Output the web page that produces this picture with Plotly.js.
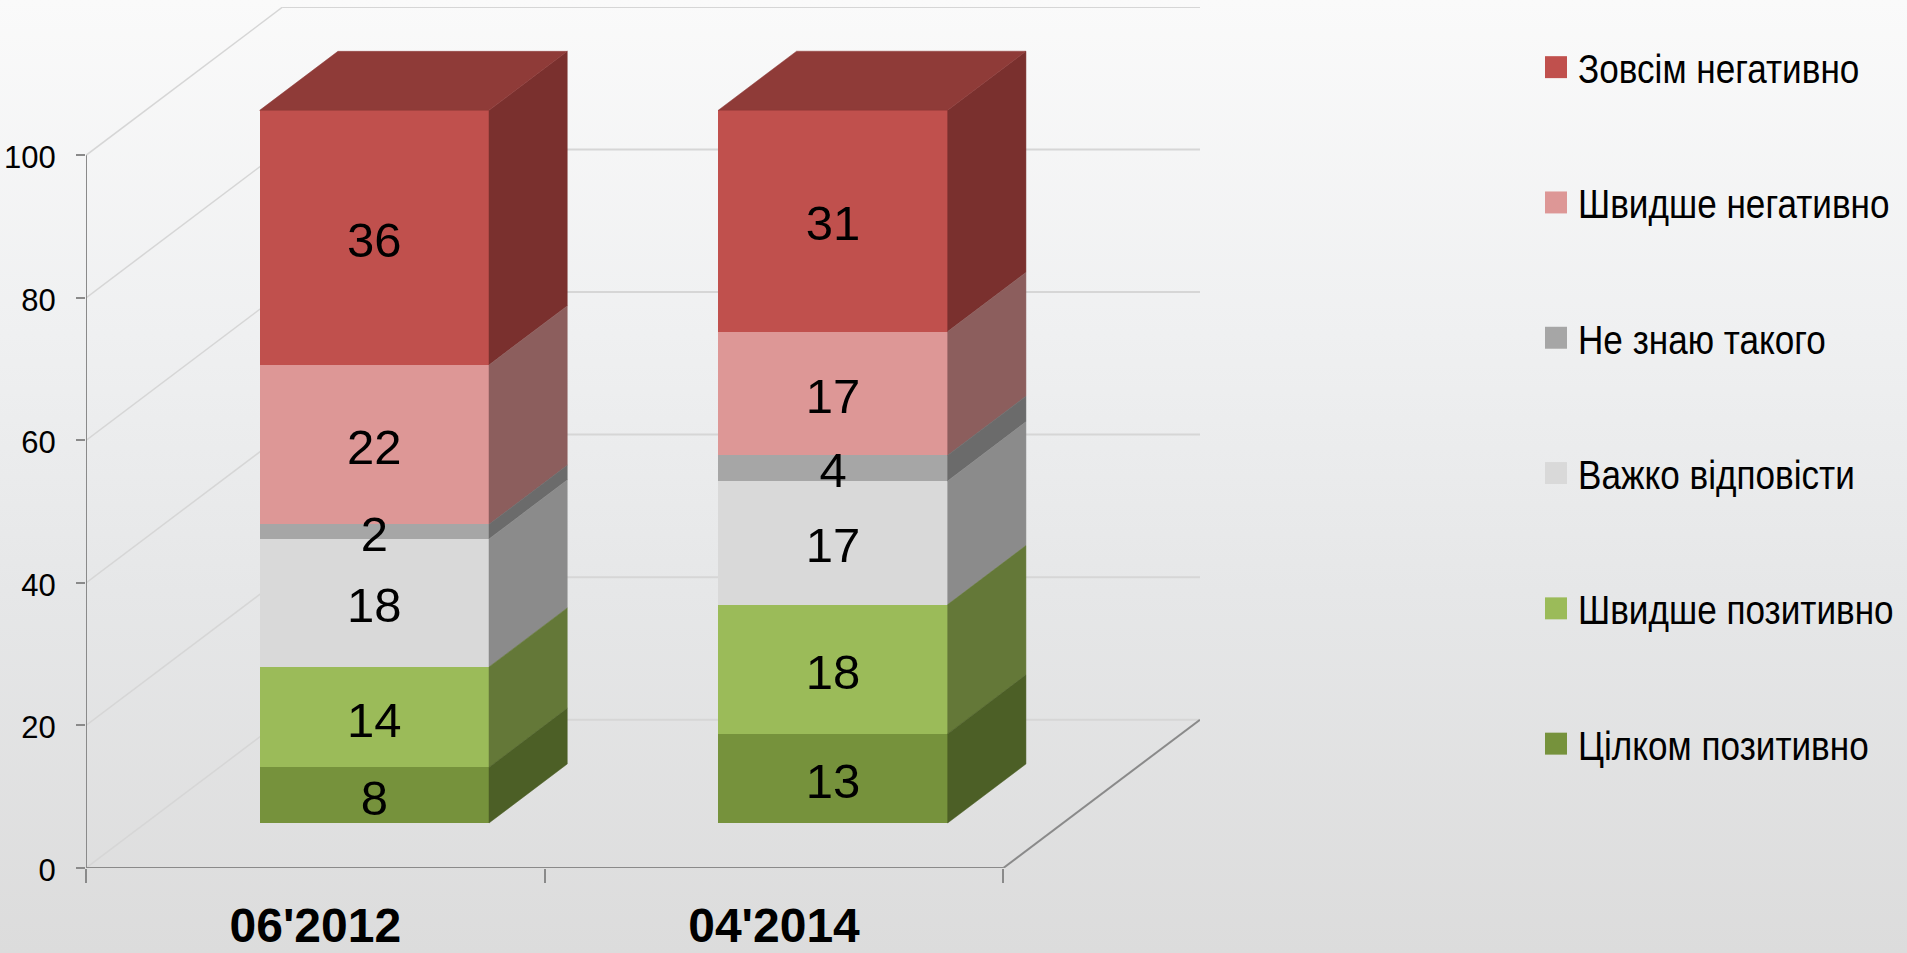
<!DOCTYPE html>
<html>
<head>
<meta charset="utf-8">
<script src="https://cdn.plot.ly/plotly-3.0.1.min.js"></script>
<style>
html,body{margin:0;padding:0;width:1907px;height:953px;overflow:hidden;
background:linear-gradient(to bottom,#fafafa 0%,#eff0f1 35%,#e6e7e8 62%,#dcdcdc 100%);}
#chart{width:1907px;height:953px;}
.legend .legendpoints path{transform:translate(18px,0) scale(1.83);}
.legend text.legendtext{transform-box:fill-box;transform-origin:left center;transform:scaleX(0.857);}
</style>
</head>
<body>
<div id="chart"></div>
<script>
// ---- data (labels show the rounded value) ----
const categories = ["06'2012", "04'2014"];
const seriesNames = ["Зовсім негативно", "Швидше негативно", "Не знаю такого", "Важко відповісти", "Швидше позитивно", "Цілком позитивно"];
const zovsimNegatyvno   = [35.72, 31.05];
const shvydsheNegatyvno = [22.37, 17.36];
const neZnayu           = [2.05, 3.6];
const vazhko            = [17.96, 17.36];
const shvydshePozytyvno = [14.09, 18.14];
const tsilkomPozytyvno  = [7.8, 12.5];
const yTicks = [0, 20, 40, 60, 80, 100];

// ---- styles ----
const frontColors = ["#C0504D", "#DD9796", "#A6A6A6", "#D9D9D9", "#9BBB59", "#76923C"];
const sideColors  = ["#7A302E", "#8C5E5D", "#6B6B6B", "#8B8B8B", "#647838", "#4C5F26"];
const topColor = "#8F3B38";
const axisColor = "#8A8A8A";
const gridColor = "#D6D6D6";

// 3-D look: depth vector of the floor, in axis units
const depthX = 0.4287, depthY = 20.81;
const frontFracX = 0.30, frontFracY = 0.3035, barFrac = 0.398, barWidth = 0.5;
const labelDrop = 1.0;

const allSeries = [zovsimNegatyvno, shvydsheNegatyvno, neZnayu, vazhko, shvydshePozytyvno, tsilkomPozytyvno];
const fx = frontFracX * depthX, fy = frontFracY * depthY;
const bx = barFrac * depthX, by = barFrac * depthY;
const centers = categories.map((_, i) => i + 0.5 + fx);

// cumulative bases: last series sits at the bottom of the stack
const bases = allSeries.map((_, s) => categories.map((_, c) => {
  let sum = 0;
  for (let k = s + 1; k < allSeries.length; k++) sum += allSeries[k][c];
  return sum;
}));

const traces = [];
// front faces
allSeries.forEach((vals, s) => {
  traces.push({
    type: 'bar', name: seriesNames[s], x: centers, y: vals,
    base: bases[s].map(b => b + fy), width: barWidth,
    marker: {color: frontColors[s], line: {width: 0}},
    legendgroup: 'g' + s, hoverinfo: 'y+name'
  });
});
// side faces
allSeries.forEach((vals, s) => {
  const xs = [], ys = [];
  categories.forEach((_, c) => {
    const r = centers[c] + barWidth / 2, lo = bases[s][c] + fy, hi = lo + vals[c];
    xs.push(r, r + bx, r + bx, r, r, null);
    ys.push(lo, lo + by, hi + by, hi, lo, null);
  });
  traces.push({
    type: 'scatter', mode: 'lines', x: xs, y: ys, fill: 'toself', fillcolor: sideColors[s],
    line: {color: sideColors[s], width: 0.5}, showlegend: false, hoverinfo: 'skip', cliponaxis: false
  });
});
// top face of the stack
{
  const xs = [], ys = [];
  categories.forEach((_, c) => {
    const l = centers[c] - barWidth / 2, r = centers[c] + barWidth / 2;
    const h = bases[0][c] + zovsimNegatyvno[c] + fy;
    xs.push(l, r, r + bx, l + bx, l, null);
    ys.push(h, h, h + by, h + by, h, null);
  });
  traces.push({
    type: 'scatter', mode: 'lines', x: xs, y: ys, fill: 'toself', fillcolor: topColor,
    line: {color: topColor, width: 0.5}, showlegend: false, hoverinfo: 'skip', cliponaxis: false
  });
}
// value labels (on top of every face)
{
  const xs = [], ys = [], txt = [];
  allSeries.forEach((vals, s) => vals.forEach((v, c) => {
    xs.push(centers[c]);
    ys.push(bases[s][c] + fy + v / 2 - labelDrop);
    txt.push(String(Math.round(v)));
  }));
  traces.push({
    type: 'scatter', mode: 'text', x: xs, y: ys, text: txt, textposition: 'middle center',
    textfont: {family: 'Liberation Sans, Arial, sans-serif', size: 49, color: '#000'},
    showlegend: false, hoverinfo: 'skip', cliponaxis: false
  });
}

// walls, floor and axis lines
const xEnd = categories.length;
const seg = (x0, y0, x1, y1, color, width) => ({
  type: 'line', xref: 'x', yref: 'y', layer: 'below', x0, y0, x1, y1,
  line: {color, width}
});
const shapes = [];
yTicks.forEach(v => {
  shapes.push(seg(0, v, depthX, v + depthY, gridColor, 1.5));
  shapes.push(seg(depthX, v + depthY, xEnd + depthX, v + depthY, gridColor, 2));
});
shapes.push(seg(0, 0, 0, yTicks[yTicks.length - 1], axisColor, 2));
shapes.push(seg(0, 0, xEnd, 0, axisColor, 2));
shapes.push(seg(xEnd, 0, xEnd + depthX, depthY, axisColor, 2));

const layout = {
  width: 1907, height: 953,
  margin: {l: 85.7, r: 707, t: 7, b: 85, pad: 0},
  paper_bgcolor: 'rgba(0,0,0,0)', plot_bgcolor: 'rgba(0,0,0,0)',
  barmode: 'overlay', bargap: 0,
  font: {family: 'Liberation Sans, Arial, sans-serif', color: '#000'},
  xaxis: {
    range: [0, xEnd + depthX], showgrid: false, zeroline: false, showline: false, fixedrange: true,
    tickmode: 'array', tickvals: categories.map((_, i) => i + 0.5), ticktext: categories,
    ticks: '', ticklabelstandoff: 25,
    tickfont: {family: 'Liberation Sans, Arial, sans-serif', size: 48, color: '#000', weight: 700},
    minor: {tickmode: 'array', tickvals: [0, 1, 2], ticks: 'outside', ticklen: 14, tickwidth: 2, tickcolor: axisColor, showgrid: false}
  },
  yaxis: {
    range: [0, 100 + depthY], showgrid: false, zeroline: false, showline: false, fixedrange: true,
    tickmode: 'array', tickvals: yTicks, ticks: 'outside', ticklen: 9, tickwidth: 2, tickcolor: axisColor,
    ticklabelstandoff: 14, ticklabelshift: 2,
    tickfont: {family: 'Liberation Sans, Arial, sans-serif', size: 31, color: '#000'}
  },
  shapes,
  showlegend: true,
  legend: {
    xref: 'container', yref: 'container', x: 1538 / 1907, y: 1 - 34 / 953,
    xanchor: 'left', yanchor: 'top', bgcolor: 'rgba(0,0,0,0)', borderwidth: 0,
    itemwidth: 30, tracegroupgap: 79, itemclick: false, itemdoubleclick: false, maxheight: 940,
    font: {family: 'Liberation Sans, Arial, sans-serif', size: 41, color: '#000'}
  }
};

Plotly.newPlot('chart', traces, layout, {displayModeBar: false, responsive: false});
</script>
</body>
</html>
